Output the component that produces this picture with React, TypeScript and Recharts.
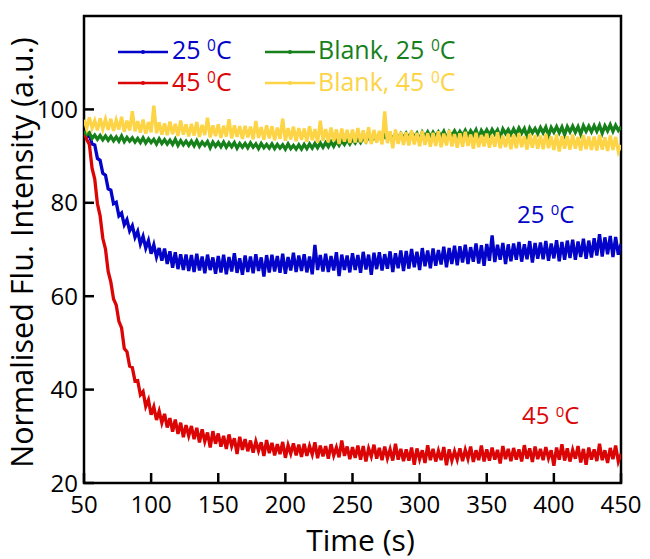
import React from 'react';
import { LineChart, Line, XAxis, YAxis, ReferenceArea, ReferenceDot, Legend } from 'recharts';

const FONT = "'Open Sans', 'Noto Sans', sans-serif";

// time axis: one reading every 2 s from 50 s to 450 s
const T_START = 50;
const T_STEP = 2;
const xTicks = [50, 100, 150, 200, 250, 300, 350, 400, 450];
const yTicks = [20, 40, 60, 80, 100];

// 25 °C sample
const blue25 = [
  95.3, 94.2, 94.6, 92.6, 92.4, 89.5, 89.1, 86.3, 85.9, 83.0,
  82.7, 79.8, 80.1, 77.2, 77.8, 75.3, 76.4, 74.0, 75.1, 72.6,
  73.9, 71.2, 72.8, 70.3, 71.9, 69.1, 71.0, 68.4, 70.3, 67.6,
  70.2, 66.9, 69.6, 66.1, 69.4, 65.8, 69.0, 65.6, 68.9, 65.4,
  68.8, 65.2, 69.1, 65.5, 68.5, 64.9, 68.9, 65.6, 68.3, 64.8,
  68.6, 65.1, 68.9, 64.7, 68.4, 65.3, 69.2, 65.0, 68.1, 64.6,
  68.7, 65.2, 68.5, 64.9, 69.0, 65.4, 68.3, 64.2, 68.8, 65.1,
  68.9, 65.3, 68.6, 65.0, 69.1, 64.8, 68.4, 65.5, 69.3, 65.2,
  68.7, 65.4, 69.0, 65.1, 68.5, 64.7, 71.0, 65.6, 68.8, 65.3,
  69.1, 65.2, 68.6, 65.5, 69.4, 64.3, 68.9, 65.6, 68.7, 65.1,
  69.2, 65.6, 68.8, 65.0, 69.5, 65.7, 68.9, 64.6, 69.3, 65.8,
  69.4, 65.5, 69.0, 65.9, 69.6, 65.2, 69.2, 66.0, 69.8, 65.4,
  69.7, 65.9, 70.1, 66.2, 69.5, 65.6, 70.3, 66.4, 69.8, 66.0,
  70.2, 66.5, 69.9, 66.8, 70.6, 66.2, 70.3, 66.9, 70.8, 66.6,
  70.7, 67.2, 71.0, 66.9, 70.5, 67.4, 71.3, 67.0, 70.9, 66.5,
  71.2, 67.6, 73.0, 67.3, 71.0, 67.8, 71.4, 66.9, 71.1, 67.5,
  71.3, 67.8, 71.6, 67.4, 71.1, 67.9, 71.8, 67.2, 71.4, 68.0,
  71.5, 67.9, 71.8, 67.6, 71.3, 68.1, 72.0, 67.5, 71.6, 67.8,
  71.9, 68.2, 72.1, 67.8, 71.7, 68.4, 72.3, 68.0, 71.9, 68.3,
  72.4, 68.7, 73.3, 68.5, 72.6, 69.0, 72.9, 68.4, 72.7, 68.9,
  71.2,
];

// 45 °C sample
const red45 = [
  95.2, 93.6, 92.5, 87.4, 85.1, 79.8, 77.2, 72.4, 70.1, 65.3,
  63.0, 59.4, 58.1, 54.6, 53.2, 48.8, 48.1, 45.0, 44.7, 41.8,
  41.9, 38.9, 39.6, 36.4, 37.8, 34.6, 36.3, 33.5, 35.4, 32.9,
  34.8, 31.9, 33.9, 31.0, 33.6, 30.5, 32.9, 29.8, 32.4, 30.1,
  32.2, 29.4, 31.8, 28.7, 31.5, 28.9, 30.8, 27.6, 31.1, 28.4,
  30.6, 27.8, 30.1, 27.3, 30.4, 27.9, 29.6, 26.2, 29.9, 27.1,
  29.4, 26.8, 29.1, 26.5, 28.9, 26.9, 28.7, 25.8, 29.2, 26.4,
  28.6, 25.9, 28.3, 26.2, 28.8, 25.4, 28.1, 26.3, 28.5, 25.9,
  28.2, 25.6, 28.4, 25.8, 27.9, 26.1, 28.7, 25.3, 28.0, 25.7,
  27.9, 25.2, 28.3, 25.9, 27.6, 25.5, 29.1, 25.8, 27.8, 25.1,
  27.7, 25.4, 28.0, 25.0, 27.9, 24.6, 27.4, 25.7, 28.2, 25.2,
  27.5, 24.9, 27.8, 25.3, 27.2, 24.8, 28.4, 25.0, 27.3, 24.7,
  27.2, 24.8, 27.6, 23.9, 27.4, 25.1, 27.0, 24.3, 28.1, 24.9,
  27.3, 24.6, 26.9, 24.9, 27.7, 23.8, 27.2, 24.8, 26.8, 25.0,
  27.4, 24.7, 27.1, 25.2, 27.8, 24.5, 27.0, 24.9, 28.0, 24.6,
  27.2, 24.8, 27.6, 25.0, 27.1, 24.2, 27.9, 25.1, 27.3, 24.7,
  27.5, 25.0, 27.2, 24.6, 28.1, 25.2, 27.4, 24.5, 27.8, 25.1,
  27.3, 24.9, 27.7, 25.3, 27.0, 23.7, 27.6, 25.0, 28.3, 24.8,
  27.4, 24.6, 27.1, 25.2, 27.9, 24.4, 27.3, 23.9, 27.6, 25.0,
  27.2, 24.7, 28.4, 24.9, 27.0, 24.3, 27.5, 25.1, 28.0, 24.6,
  26.2,
];

// Blank, 25 °C
const blank25 = [
  95.4, 94.6, 95.0, 93.8, 94.5, 93.6, 94.4, 93.5, 94.3, 93.4,
  94.2, 93.3, 94.1, 93.2, 94.3, 93.1, 94.0, 93.2, 93.9, 93.0,
  93.8, 92.9, 93.9, 92.8, 93.7, 92.9, 93.6, 92.6, 93.7, 92.7,
  93.5, 92.6, 93.4, 92.5, 93.6, 92.3, 93.3, 92.4, 93.2, 92.3,
  93.2, 92.2, 93.3, 92.1, 93.0, 92.3, 93.1, 91.8, 93.0, 92.1,
  92.9, 92.0, 93.0, 91.9, 92.8, 92.0, 92.9, 91.7, 92.7, 91.9,
  92.7, 91.8, 92.8, 91.9, 92.6, 91.6, 92.7, 91.8, 92.5, 91.7,
  92.6, 91.6, 92.5, 91.7, 92.4, 91.5, 92.6, 91.6, 92.3, 91.5,
  92.4, 91.5, 92.5, 91.6, 92.6, 91.7, 92.7, 91.8, 92.8, 91.9,
  92.9, 92.0, 93.1, 92.1, 93.2, 92.3, 93.3, 92.5, 93.5, 92.6,
  93.6, 92.8, 93.8, 92.9, 93.9, 93.1, 94.1, 93.2, 94.2, 93.4,
  94.3, 93.5, 94.4, 93.6, 94.6, 93.7, 94.7, 93.8, 94.8, 93.9,
  94.9, 94.0, 95.0, 94.1, 94.9, 93.5, 95.1, 94.2, 95.2, 94.1,
  95.1, 94.2, 95.2, 94.3, 95.3, 93.8, 95.2, 94.4, 95.4, 94.3,
  95.3, 94.4, 95.5, 94.3, 95.4, 94.5, 95.6, 93.9, 95.5, 94.6,
  95.6, 94.5, 95.7, 94.7, 95.6, 94.0, 95.8, 94.8, 95.7, 94.6,
  95.8, 94.7, 96.0, 94.9, 95.9, 94.2, 96.0, 95.0, 95.9, 94.8,
  96.1, 95.0, 96.2, 94.4, 96.1, 95.1, 96.3, 95.0, 96.2, 94.6,
  96.3, 95.2, 96.4, 95.1, 96.3, 94.7, 96.5, 95.3, 96.4, 95.2,
  96.5, 95.3, 96.6, 94.9, 96.5, 95.4, 96.7, 95.3, 96.6, 95.5,
  96.3,
];

// Blank, 45 °C
const blank45 = [
  97.8, 95.9, 98.3, 96.0, 97.6, 95.5, 98.1, 95.8, 97.9, 95.6,
  98.0, 95.4, 97.7, 95.7, 98.4, 95.2, 97.6, 95.5, 99.6, 95.3,
  97.5, 95.0, 97.8, 94.8, 97.3, 95.1, 100.8, 94.9, 97.2, 94.6,
  97.0, 94.5, 97.4, 94.7, 96.9, 94.3, 97.6, 94.6, 96.8, 94.2,
  96.9, 94.4, 97.3, 94.1, 96.7, 94.5, 98.2, 94.0, 96.6, 94.3,
  96.8, 93.9, 96.5, 94.2, 97.9, 93.8, 96.6, 94.1, 96.4, 93.7,
  96.5, 94.0, 96.3, 93.6, 97.5, 93.9, 96.2, 93.5, 96.6, 93.8,
  96.4, 93.4, 96.1, 93.7, 98.0, 93.3, 96.0, 93.6, 96.3, 93.2,
  96.0, 93.5, 95.9, 93.1, 96.4, 93.4, 95.8, 92.9, 97.6, 93.3,
  95.8, 93.0, 96.1, 93.2, 95.7, 92.6, 95.9, 93.1, 95.6, 92.8,
  95.7, 92.9, 96.0, 93.0, 95.5, 92.7, 96.2, 92.6, 95.6, 92.9,
  95.4, 92.5, 99.6, 92.8, 95.3, 91.7, 95.7, 92.6, 95.2, 92.4,
  95.1, 92.3, 95.5, 92.5, 95.0, 92.1, 95.4, 92.4, 94.9, 92.0,
  95.0, 92.2, 95.3, 91.9, 94.8, 92.3, 95.6, 92.1, 94.7, 91.8,
  94.9, 92.0, 95.2, 92.2, 94.6, 91.6, 95.0, 91.9, 94.5, 92.1,
  94.8, 91.8, 94.5, 92.0, 95.1, 91.7, 94.4, 91.9, 94.7, 91.5,
  94.6, 91.7, 94.9, 91.9, 94.3, 91.4, 94.7, 91.8, 94.5, 91.6,
  94.4, 91.5, 94.8, 91.7, 94.2, 91.3, 94.6, 91.0, 94.3, 91.6,
  94.3, 91.4, 94.6, 91.6, 94.1, 91.2, 94.5, 91.5, 94.2, 91.3,
  94.2, 91.2, 94.5, 91.4, 94.0, 91.1, 94.4, 91.3, 94.1, 91.0,
  92.4,
];

const COLORS = { blue: '#0303c9', red: '#dc0505', green: '#16801a', yellow: '#fcd446' };

const legendItems = [
  { key: 'blue', prefix: '25 ', color: COLORS.blue, col: 0, row: 0 },
  { key: 'red', prefix: '45 ', color: COLORS.red, col: 0, row: 1 },
  { key: 'green', prefix: 'Blank, 25 ', color: COLORS.green, col: 1, row: 0 },
  { key: 'yellow', prefix: 'Blank, 45 ', color: COLORS.yellow, col: 1, row: 1 },
];

const data = red45.map((_, i) => ({
  t: T_START + i * T_STEP,
  blue: blue25[i],
  red: red45[i],
  green: blank25[i],
  yellow: blank45[i],
}));

const DegText = ({ x, y, prefix, color, size }: any) => (
  <text x={x} y={y} fill={color} fontSize={size} fontFamily={FONT} style={{ whiteSpace: 'pre' }}>
    {prefix}
    <tspan fontSize={size * 0.62} dy={-size * 0.31}>0</tspan>
    <tspan dy={size * 0.31}>C</tspan>
  </text>
);

const XTick = (props: any) => {
  const { x, y, payload } = props;
  return (
    <g>
      <line x1={x} y1={y} x2={x} y2={y - 10} stroke="#000" strokeWidth={2.5} />
      <text x={x} y={y + 30} textAnchor="middle" fontSize={24} fontFamily={FONT} fill="#000">
        {payload.value}
      </text>
    </g>
  );
};

const YTick = (props: any) => {
  const { x, y, payload } = props;
  return (
    <g>
      <line x1={x} y1={y} x2={x + 10} y2={y} stroke="#000" strokeWidth={2.5} />
      <text x={x - 6} y={y + 8.5} textAnchor="end" fontSize={24} fontFamily={FONT} fill="#000">
        {payload.value}
      </text>
    </g>
  );
};

const renderLegend = () => {
  const colLine = [118, 265];
  const colText = [172, 318];
  const rowLine = [52, 83];
  const rowBase = [58.5, 91];
  return (
    <svg width={650} height={110} style={{ position: 'absolute', left: 0, top: 0, overflow: 'visible' }}>
      {legendItems.map((it) => {
        const x0 = colLine[it.col];
        const ly = rowLine[it.row];
        return (
          <g key={it.key}>
            <line x1={x0} y1={ly} x2={x0 + 50} y2={ly} stroke={it.color} strokeWidth={2.5} />
            <circle cx={x0 + 25} cy={ly} r={2} fill={it.color} />
            <DegText x={colText[it.col]} y={rowBase[it.row]} prefix={it.prefix} color={it.color} size={25} />
          </g>
        );
      })}
    </svg>
  );
};

const LINE_W = 3.3;

export default function App() {
  return (
    <div style={{ position: 'absolute', left: 0, top: 0, width: 650, height: 559, background: '#fff' }}>
      <LineChart width={650} height={559} data={data} margin={{ top: 16, right: 29, left: 0, bottom: 0 }}>
        <XAxis
          dataKey="t"
          type="number"
          domain={[50, 450]}
          ticks={xTicks}
          interval={0}
          tick={<XTick />}
          tickLine={false}
          axisLine={false}
          tickSize={0}
          tickMargin={0}
          height={76}
          allowDataOverflow
          label={(p: any) => {
            const vb = p.viewBox || {};
            return (
              <text x={vb.x + vb.width / 2 + 8} y={vb.y + 68} textAnchor="middle" fontSize={30} fontFamily={FONT} fill="#000">
                Time (s)
              </text>
            );
          }}
        />
        <YAxis
          type="number"
          domain={[20, 120]}
          ticks={yTicks}
          interval={0}
          tick={<YTick />}
          tickLine={false}
          axisLine={false}
          tickSize={0}
          tickMargin={0}
          width={84}
          allowDataOverflow
          label={(p: any) => {
            const vb = p.viewBox || {};
            const cx = 33;
            const cy = vb.y + vb.height / 2 + 3;
            return (
              <text x={cx} y={cy} transform={`rotate(-90, ${cx}, ${cy})`} textAnchor="middle" fontSize={30.5} fontFamily={FONT} fill="#000">
                Normalised Flu. Intensity (a.u.)
              </text>
            );
          }}
        />
        <Legend content={renderLegend} wrapperStyle={{ position: 'absolute', left: 0, top: 0, width: 0, height: 0 }} />
        <Line dataKey="blue" stroke={COLORS.blue} strokeWidth={LINE_W} dot={false} isAnimationActive={false} />
        <Line dataKey="red" stroke={COLORS.red} strokeWidth={LINE_W} dot={false} isAnimationActive={false} />
        <Line dataKey="green" stroke={COLORS.green} strokeWidth={LINE_W} dot={false} isAnimationActive={false} />
        <Line dataKey="yellow" stroke={COLORS.yellow} strokeWidth={LINE_W} dot={false} isAnimationActive={false} />
        <ReferenceDot
          x={372.5}
          y={75.7}
          r={0}
          fill="none"
          stroke="none"
          label={(p: any) => {
            const vb = p.viewBox || {};
            return <DegText x={vb.x} y={vb.y} prefix="25 " color={COLORS.blue} size={24} />;
          }}
        />
        <ReferenceDot
          x={376.3}
          y={32.6}
          r={0}
          fill="none"
          stroke="none"
          label={(p: any) => {
            const vb = p.viewBox || {};
            return <DegText x={vb.x} y={vb.y} prefix="45 " color={COLORS.red} size={24} />;
          }}
        />
        <ReferenceArea x1={50} x2={450} y1={20} y2={120} fill="none" fillOpacity={0} stroke="#000" strokeWidth={2.5} />
      </LineChart>
    </div>
  );
}
